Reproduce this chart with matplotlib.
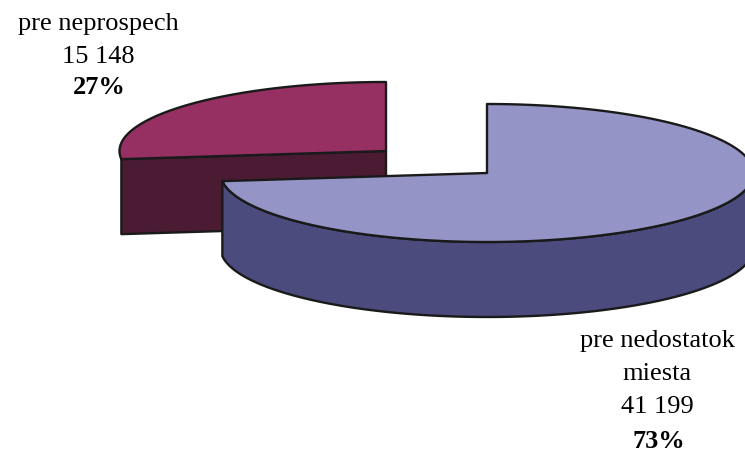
import numpy as np
import matplotlib
matplotlib.use('Agg')
import matplotlib.pyplot as plt
from matplotlib.patches import Polygon

big_label = ['pre nedostatok', 'miesta', '41 199']
small_label = ['pre neprospech', '15 148']
counts = [41199, 15148]
pct_labels = ['73%', '27%']

plt.rcParams['font.family'] = ['Liberation Serif']

total = float(sum(counts))
split = 360.0 * counts[0] / total

rx, ry = 266.5, 69.0
depth = 75.0


def rim(cx, cy, a0, a1, n=200):
    # angles clockwise from 12 o'clock, squashed to an ellipse
    t = np.radians(np.linspace(a0, a1, n))
    return np.column_stack([cx + rx * np.sin(t), cy - ry * np.cos(t)])


fig = plt.figure(figsize=(7.45, 4.53), dpi=100)
ax = fig.add_axes([0, 0, 1, 1])
ax.set_xlim(0, 745)
ax.set_ylim(453, 0)
ax.axis('off')

lw = 1.7
# small slice, pulled out to the upper left
c2 = (386.0, 151.0)
arc2 = rim(c2[0], c2[1], split, 360.0)
wall = np.array([arc2[0], c2, (c2[0], c2[1] + depth), (arc2[0][0], arc2[0][1] + depth)])
ax.add_patch(Polygon(wall, fc='#4b1a33', ec='#1a1a1a', lw=lw, joinstyle='round'))
ax.add_patch(Polygon(np.vstack([[c2], arc2]), fc='#963062', ec='#1a1a1a', lw=lw, joinstyle='round'))

# big slice
c1 = (487.0, 173.0)
front = rim(c1[0], c1[1], 90.0, split)
side = np.vstack([front, front[::-1] + [0, depth]])
ax.add_patch(Polygon(side, fc='#4b4b7e', ec='#1a1a1a', lw=lw, joinstyle='round'))
arc1 = rim(c1[0], c1[1], 0.0, split, 400)
ax.add_patch(Polygon(np.vstack([[c1], arc1]), fc='#9494c6', ec='#1a1a1a', lw=lw, joinstyle='round'))

fs = 19
for y, s in zip([24, 57], small_label):
    ax.text(98, y, s, ha='center', va='center', fontsize=fs)
ax.text(99, 88, pct_labels[1], ha='center', va='center', fontsize=fs, fontweight='bold')
for y, s in zip([341, 374, 407], big_label):
    ax.text(657, y, s, ha='center', va='center', fontsize=fs)
ax.text(659, 441, pct_labels[0], ha='center', va='center', fontsize=fs, fontweight='bold')

fig.savefig('out.png', dpi=100)
